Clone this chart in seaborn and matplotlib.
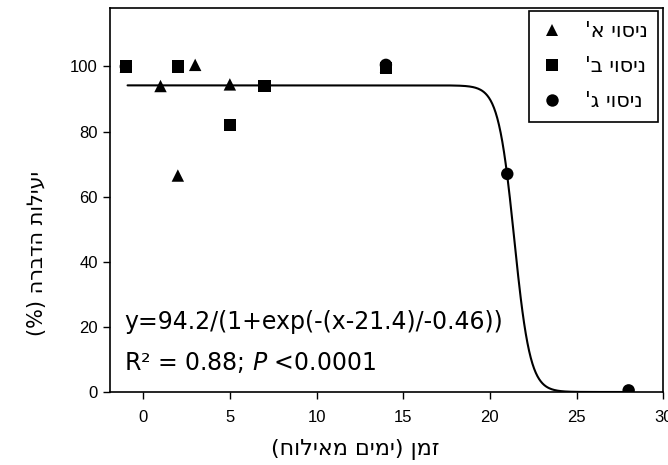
import numpy as np
import pandas as pd
import matplotlib
matplotlib.use("Agg")
import matplotlib.pyplot as plt
import seaborn as sns

# ---- data ----
trials = ["ניסוי א'", "ניסוי ב'", "ניסוי ג'"]
trial_a_x = [-1, 1, 2, 3, 5, 14]
trial_a_y = [100, 94, 66.5, 100.5, 94.5, 100]
trial_b_x = [-1, 2, 5, 7, 14]
trial_b_y = [100, 100, 82, 94, 99.5]
trial_c_x = [-1, 14, 21, 28]
trial_c_y = [100, 100.5, 67, 0.5]
fit_a, fit_x0, fit_b = 94.2, 21.4, -0.46
fit_range = [-0.9, 28]
x_ticks = [0, 5, 10, 15, 20, 25, 30]
y_ticks = [0, 20, 40, 60, 80, 100]
x_label = "זמן (ימים מאילוח)"
y_label = "יעילות הדברה (%)"
eq_text = "y=94.2/(1+exp(-(x-21.4)/-0.46))"
stat_text = r"R² = 0.88; $\it{P}$ <0.0001"

def rtl(s):
    mirror = {"(": ")", ")": "("}
    return "".join(mirror.get(c, c) for c in reversed(s))

sns.set_theme(style="white")
plt.rcParams["font.family"] = ["Liberation Sans", "DejaVu Sans"]
plt.rcParams["text.color"] = "black"
plt.rcParams["axes.labelcolor"] = "black"
plt.rcParams["xtick.color"] = "black"
plt.rcParams["ytick.color"] = "black"

df = pd.DataFrame({
    "x": trial_a_x + trial_b_x + trial_c_x,
    "y": trial_a_y + trial_b_y + trial_c_y,
    "trial": [rtl(trials[0])] * len(trial_a_x) + [rtl(trials[1])] * len(trial_b_x)
             + [rtl(trials[2])] * len(trial_c_x),
})

xs = np.linspace(fit_range[0], fit_range[1], 600)
fit_df = pd.DataFrame({"x": xs, "y": fit_a / (1 + np.exp(-(xs - fit_x0) / fit_b))})

fig = plt.figure(figsize=(6.68, 4.65), dpi=100)
ax = fig.add_axes([0.165, 0.157, 0.828, 0.826])

sns.lineplot(data=fit_df, x="x", y="y", ax=ax, color="black", linewidth=1.5, zorder=2)
sns.scatterplot(data=df, x="x", y="y", style="trial", ax=ax,
                markers={rtl(trials[0]): "^", rtl(trials[1]): "s", rtl(trials[2]): "o"},
                color="black", s=80, edgecolor="black", linewidth=0, zorder=3,
                style_order=[rtl(t) for t in trials])

ax.set_xlim(-1.9, 30)
ax.set_ylim(0, 118)
ax.set_xticks(x_ticks)
ax.set_yticks(y_ticks)
ax.tick_params(axis="both", which="major", direction="out", length=5, width=1,
               labelsize=12, color="black", labelcolor="black", bottom=True, left=True)
ax.tick_params(axis="x", pad=8)
ax.tick_params(axis="y", pad=4)
for sp in ax.spines.values():
    sp.set_color("black")
    sp.set_linewidth(1.2)

ax.set_xlabel(rtl(x_label), fontsize=16, family=["DejaVu Sans"], color="black")
ax.xaxis.set_label_coords(0.443, -0.122)
ax.set_ylabel(rtl(y_label), fontsize=15, family=["DejaVu Sans"], color="black")
ax.yaxis.set_label_coords(-0.115, 0.362)

ax.text(-1.1, 21.5, eq_text, fontsize=17, ha="left", va="center",
        family=["DejaVu Sans"], color="black")
ax.text(-1.1, 9.2, stat_text, fontsize=17, ha="left", va="center",
        family=["DejaVu Sans"], color="black")

leg = ax.legend(loc="upper right", bbox_to_anchor=(0.991, 0.992), borderaxespad=0,
                frameon=True, fancybox=False, prop={"family": "DejaVu Sans", "size": 15},
                markerscale=1.0, handlelength=1.2, handletextpad=1.0, labelspacing=0.72,
                borderpad=0.5, markerfirst=True)
leg.get_frame().set_edgecolor("black")
leg.get_frame().set_linewidth(1.2)
leg.get_frame().set_alpha(1)
for t in leg.get_texts():
    t.set_color("black")

fig.savefig("out.png", dpi=100)
